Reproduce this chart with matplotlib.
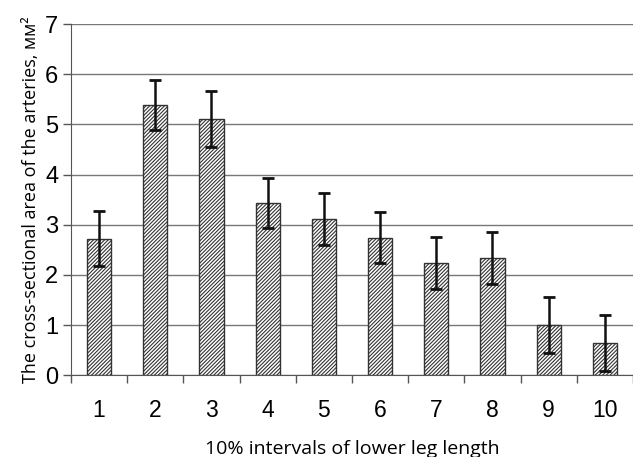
import matplotlib.pyplot as plt
import numpy as np

intervals = ["1", "2", "3", "4", "5", "6", "7", "8", "9", "10"]
area = [2.72, 5.39, 5.11, 3.43, 3.11, 2.74, 2.23, 2.33, 1.00, 0.64]
err = [0.55, 0.50, 0.56, 0.50, 0.52, 0.51, 0.52, 0.52, 0.56, 0.56]

plt.rcParams['hatch.linewidth'] = 0.8
plt.rcParams['hatch.color'] = '#222222'

fig = plt.figure(figsize=(6.33, 4.57), dpi=100)
ax = fig.add_axes([0.112, 0.179, 0.888, 0.768])

x = np.arange(1, len(area) + 1)
ax.bar(x, area, width=0.43, color='white', edgecolor='#333333', linewidth=1.0,
       hatch='/////////', zorder=3)
ax.errorbar(x, area, yerr=err, fmt='none', ecolor='#111111', elinewidth=1.8,
            capsize=4, capthick=2, zorder=4)

ax.set_xlim(0.5, 10.5)
ax.set_ylim(0, 7)
ax.set_yticks(range(0, 8))
ax.yaxis.grid(True, color='#777777', linewidth=1.0, zorder=0)

ax.set_xticks(x)
ax.set_xticklabels(intervals, fontsize=16.5, family='Liberation Sans')
ax.set_xticks(np.arange(0.5, 11, 1), minor=True)
ax.tick_params(axis='x', which='major', length=0, pad=17)
ax.tick_params(axis='x', which='minor', length=6, width=1, color='#555555')
ax.tick_params(axis='y', length=6, width=1, color='#555555', pad=3)
for lab in ax.get_yticklabels():
    lab.set_fontsize(17)
    lab.set_family('Liberation Sans')

for s in ['top', 'right']:
    ax.spines[s].set_visible(False)
ax.spines['left'].set_color('#555555')
ax.spines['bottom'].set_color('#555555')

ax.set_ylabel("The cross-sectional area of the arteries, мм²", fontsize=13,
              family='Open Sans', labelpad=4)
ax.set_xlabel("10% intervals of lower leg length", fontsize=14,
              family='Open Sans', labelpad=13)

fig.savefig("out.png", dpi=100)
